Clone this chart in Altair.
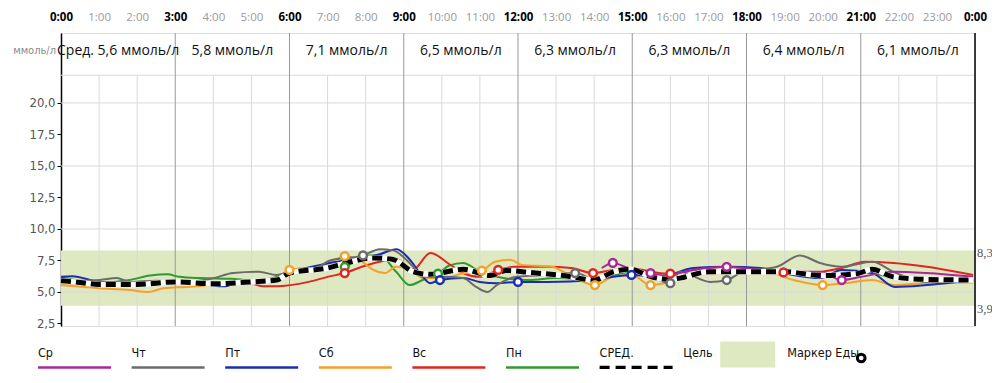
import altair as alt
import pandas as pd

# ---------------- data ----------------
days = ["Ср", "Чт", "Пт", "Сб", "Вс", "Пн"]
day_colors = ["#a8289c", "#6b6b6b", "#1a2db0", "#f4a12a", "#e0261f", "#2f9a2f"]

sr_t = [14.2, 14.49, 14.9, 15.48, 15.8, 16.6, 17.48, 18.36, 19.23, 19.93, 20.5, 21.0, 21.86, 22.73, 23.95]
sr_v = [6.9, 7.3, 6.9, 6.5, 6.3, 6.75, 7.0, 6.75, 6.6, 6.6, 5.95, 6.2, 6.6, 6.5, 6.2]

cht_t = [0.0, 0.5, 1.02, 1.46, 1.81, 2.5, 3.3, 4.0, 4.52, 5.2, 5.66, 6.0, 6.7, 7.06, 7.93, 8.37, 8.72, 9.25, 9.5,
         10.0, 10.56, 10.9, 11.2, 11.44, 11.97, 12.75, 13.5, 14.07, 14.94, 16.0, 16.25, 17.05, 17.48, 17.9, 18.8,
         19.4, 19.93, 20.5, 21.3, 21.86, 22.73, 23.95]
cht_v = [5.9, 5.9, 5.95, 6.1, 5.8, 5.9, 5.8, 6.1, 6.5, 6.6, 6.35, 6.6, 6.9, 7.5, 7.9, 8.4, 8.3, 7.0, 6.2,
         6.2, 6.1, 5.4, 5.0, 5.55, 6.2, 6.35, 6.5, 5.95, 6.9, 5.7, 6.6, 5.8, 5.95, 6.6, 7.0,
         7.9, 7.3, 7.0, 7.4, 6.6, 5.8, 5.95]

pt_t = [0.0, 0.3, 1.02, 1.8, 3.0, 3.6, 4.0, 4.3, 4.6, 5.5, 6.0, 7.06, 8.37, 8.81, 9.15, 9.5, 9.69, 9.95, 10.56,
        11.0, 11.44, 12.0, 12.75, 14.0, 14.5, 14.98, 15.73, 16.6, 17.48, 18.36, 19.23, 19.93, 20.5, 21.3, 21.9,
        22.73, 23.95]
pt_v = [6.2, 6.25, 5.8, 5.75, 5.7, 5.7, 5.5, 5.45, 5.7, 5.8, 6.5, 7.3, 8.0, 8.4, 7.6, 6.2, 5.7, 5.95, 6.1,
        5.8, 5.7, 5.8, 5.8, 5.95, 6.2, 6.35, 6.2, 6.9, 7.0, 6.9, 6.35, 6.1, 6.75, 6.5, 5.4,
        5.55, 5.95]

sb_t = [0.0, 1.0, 1.8, 2.3, 2.7, 3.3, 4.5, 5.6, 6.0, 6.7, 7.2, 7.45, 7.9, 8.2, 8.5, 8.8, 9.2, 9.5, 10.0, 10.6,
        11.05, 11.4, 11.8, 12.1, 12.9, 13.2, 14.02, 14.5, 15.0, 15.48, 16.0, 16.6, 17.48, 18.36, 19.23, 20.0,
        20.6, 21.3, 21.86, 22.73, 23.95]
sb_v = [5.55, 5.3, 5.15, 5.0, 5.3, 5.4, 5.7, 6.0, 6.75, 7.0, 7.55, 7.85, 7.4, 6.75, 6.5, 7.0, 6.75, 6.1, 6.1, 6.5,
        6.7, 7.4, 7.55, 7.15, 7.0, 6.6, 5.55, 6.2, 6.3, 5.55, 5.8, 6.35, 6.5, 6.75, 5.95, 5.55,
        5.7, 5.95, 5.55, 5.7, 5.75]

vs_t = [0.0, 1.0, 2.5, 3.3, 4.0, 5.0, 5.3, 5.66, 6.5, 7.0, 7.45, 7.9, 8.8, 9.25, 9.7, 10.2, 10.56, 11.0, 11.48,
        11.9, 12.75, 13.4, 13.97, 14.5, 14.94, 15.5, 16.0, 16.6, 17.48, 18.36, 18.97, 19.6, 20.5, 21.1, 21.86,
        22.73, 23.95]
vs_v = [5.75, 5.55, 5.7, 5.8, 5.6, 5.65, 5.45, 5.45, 5.8, 6.2, 6.5, 7.0, 7.6, 6.8, 8.1, 7.2, 6.5, 6.2, 6.75,
        7.0, 7.0, 6.9, 6.5, 6.75, 6.9, 6.6, 6.45, 6.75, 7.0, 6.75, 6.55, 6.5, 6.9, 7.4, 7.3,
        7.0, 6.35]

pn_t = [0.0, 0.5, 1.0, 1.8, 2.34, 2.8, 3.1, 3.65, 4.5, 5.2, 5.66, 6.0, 6.7, 7.06, 7.45, 7.95, 8.37, 8.8, 9.15,
        9.5, 9.9, 10.2, 10.56, 11.0, 11.44, 12.3, 13.0, 14.0, 15.0, 16.0, 17.0, 18.0, 19.0, 20.0, 21.0, 22.0,
        23.0, 23.95]
pn_v = [6.15, 5.9, 5.75, 5.95, 6.3, 6.4, 6.2, 6.1, 6.05, 5.85, 6.2, 6.4, 6.75, 7.4, 7.0, 7.9, 7.9, 6.6, 5.55,
        5.95, 6.45, 7.1, 7.3, 6.6, 6.2, 5.95, 6.1, 6.0, 6.6, 6.1, 6.5, 6.6, 6.5, 6.3, 6.6, 6.1,
        6.0, 5.95]

avg_t = [0.0, 0.5, 1.0, 2.0, 3.0, 4.0, 5.0, 5.66, 6.0, 7.0, 7.5, 8.2, 8.7, 9.25, 9.7, 10.56, 11.27, 11.7, 12.3,
         13.2, 14.0, 14.5, 14.95, 15.5, 16.0, 16.25, 17.0, 18.0, 19.0, 20.0, 20.9, 21.3, 21.85, 22.7, 23.95]
avg_v = [5.9, 5.75, 5.6, 5.6, 5.8, 5.65, 5.8, 5.95, 6.5, 6.9, 7.3, 7.7, 7.6, 6.6, 6.4, 6.8, 6.3, 6.7, 6.55,
         6.3, 5.95, 6.6, 6.8, 6.2, 6.0, 6.1, 6.6, 6.6, 6.6, 6.3, 6.45, 6.8, 6.2, 6.0, 5.95]

meal_day = ["Сб", "Сб", "Пн", "Вс", "Чт", "Пн", "Пт", "Сб", "Вс", "Пт", "Чт", "Вс", "Сб", "Ср", "Пт",
            "Ср", "Сб", "Вс", "Чт", "Ср", "Чт", "Вс", "Сб", "Ср"]
meal_t = [6.0, 7.45, 7.45, 7.45, 7.93, 9.9, 9.95, 11.05, 11.48, 12.0, 13.5, 13.97, 14.02, 14.49, 14.98,
          15.48, 15.48, 16.0, 16.0, 17.48, 17.48, 18.97, 20.0, 20.5]
meal_v = [6.75, 7.85, 7.0, 6.5, 7.9, 6.45, 5.95, 6.7, 6.75, 5.8, 6.5, 6.5, 5.55, 7.3, 6.35,
          6.5, 5.55, 6.45, 5.7, 7.0, 5.95, 6.55, 5.55, 5.95]

seg_mid = [1.5, 4.5, 7.5, 10.5, 13.5, 16.5, 19.5, 22.5]
seg_labels = ["Сред. 5,6 ммоль/л", "5,8 ммоль/л", "7,1 ммоль/л", "6,5 ммоль/л",
              "6,3 ммоль/л", "6,3 ммоль/л", "6,4 ммоль/л", "6,1 ммоль/л"]
hours = list(range(25))
y_ticks = [2.5, 5.0, 7.5, 10.0, 12.5, 15.0, 17.5, 20.0]
grid_vals = [5.0, 10.0, 15.0, 20.0, 22.2]
target_low, target_high = 3.9, 8.3

# ---------------- layout ----------------
W, H = 914, 293
Y_MIN, GRID_TOP, Y_MAX = 2.3, 22.2, 25.55
SANS = "Open Sans, Noto Sans, sans-serif"
NARROW = "Liberation Sans Narrow, DejaVu Sans Condensed, Roboto, sans-serif"

xs = alt.Scale(domain=[0, 24], nice=False, zero=False)
ys = alt.Scale(domain=[Y_MIN, Y_MAX], nice=False, zero=False)

top_axis = alt.Axis(
    orient="top", values=hours, title=None, grid=False, ticks=False, domain=False,
    labelExpr="datum.value == 24 ? '0:00' : datum.value + ':00'",
    labelFlush=False, labelOverlap=False, labelPadding=11, labelFont=SANS, labelFontSize=11.5,
    labelFontWeight={"condition": {"test": "datum.value % 3 === 0", "value": "bold"}, "value": "normal"},
    labelColor={"condition": {"test": "datum.value % 3 === 0", "value": "#000000"}, "value": "#9a9a9a"},
)
y_axis = alt.Axis(
    values=y_ticks, title=None, grid=False,
    labelExpr="replace(format(datum.value, '.1f'), '.', ',')",
    domainColor="#000000", domainWidth=1.5, tickColor="#000000", tickSize=4, tickWidth=1,
    labelColor="#555555", labelFont=NARROW, labelFontSize=13, labelPadding=2,
)


def X(field):
    return alt.X(field, scale=xs, axis=top_axis)


def Y(field):
    return alt.Y(field, scale=ys, axis=y_axis)


band = alt.Chart(pd.DataFrame({"a": [0], "b": [24], "lo": [target_low], "hi": [target_high]})).mark_rect(
    color="#dfe9c1").encode(x=X("a:Q"), x2="b:Q", y=Y("lo:Q"), y2="hi:Q")

hgrid = alt.Chart(pd.DataFrame({"v": grid_vals})).mark_rule(color="#d9d9d9", strokeWidth=1).encode(
    y=Y("v:Q"))

minor_h = [h for h in hours if h % 3 != 0]
vminor = alt.Chart(pd.DataFrame({"h": minor_h, "lo": [Y_MIN] * len(minor_h), "hi": [GRID_TOP] * len(minor_h)})
                   ).mark_rule(color="#d9d9d9", strokeWidth=1).encode(
    x=X("h:Q"), y=Y("lo:Q"), y2="hi:Q")
major_h = [h for h in hours if h % 3 == 0 and 0 < h < 24]
vmajor = alt.Chart(pd.DataFrame({"h": major_h})).mark_rule(color="#999999", strokeWidth=1).encode(x=X("h:Q"))
vend = alt.Chart(pd.DataFrame({"h": [24]})).mark_rule(color="#000000", strokeWidth=1.5).encode(x=X("h:Q"))

header = alt.Chart(pd.DataFrame({"m": seg_mid, "t": seg_labels})).mark_text(
    font=SANS, fontSize=14, color="#111111", baseline="middle", align="center").encode(
    x=X("m:Q"), y=alt.value(18), text="t:N")
unit = alt.Chart(pd.DataFrame({"t": ["ммоль/л"]})).mark_text(
    font=NARROW, fontSize=11, color="#8a8a8a", baseline="middle", align="right").encode(
    x=alt.value(-5), y=alt.value(18), text="t:N")

series = {"Ср": (sr_t, sr_v), "Чт": (cht_t, cht_v), "Пт": (pt_t, pt_v),
          "Сб": (sb_t, sb_v), "Вс": (vs_t, vs_v), "Пн": (pn_t, pn_v)}
draw_order = ["Пн", "Вс", "Сб", "Пт", "Чт", "Ср"]
day_layers = []
for d in draw_order:
    t, v = series[d]
    c = day_colors[days.index(d)]
    day_layers.append(
        alt.Chart(pd.DataFrame({"t": t, "v": v})).mark_line(
            color=c, strokeWidth=2, interpolate="monotone").encode(x=X("t:Q"), y=Y("v:Q")))

avg_df = pd.DataFrame({"t": avg_t, "v": avg_v})
avg_under = alt.Chart(avg_df).mark_line(color="#ffffff", strokeWidth=5.5, interpolate="monotone").encode(
    x=X("t:Q"), y=Y("v:Q"))
avg_line = alt.Chart(avg_df).mark_line(color="#000000", strokeWidth=5, strokeDash=[10, 5],
                                       interpolate="monotone").encode(x=X("t:Q"), y=Y("v:Q"))

meals = alt.Chart(pd.DataFrame({"day": meal_day, "t": meal_t, "v": meal_v})).mark_point(
    shape="circle", filled=False, fill="#ffffff", fillOpacity=1, opacity=1, strokeWidth=2.5, size=60).encode(
    x=X("t:Q"), y=Y("v:Q"),
    color=alt.Color("day:N", scale=alt.Scale(domain=days, range=day_colors), legend=None))

tgt_vals = [target_high, target_low]
tgt_txt = [f"{v:.1f}".replace(".", ",") for v in tgt_vals]
tgt_labels = alt.Chart(pd.DataFrame({"v": tgt_vals, "t": tgt_txt})).mark_text(
    font="Liberation Serif, DejaVu Serif, serif", fontSize=12.5, color="#555555", align="left",
    baseline="middle", dy=3).encode(
    x=alt.value(W + 2), y=Y("v:Q"), text="t:N")

# ---------------- legend (pixel layout relative to plot origin) ----------------
LEG_X0, LEG_STEP, LEG_LEN = -23, 93.6, 73
LEG_TEXT_Y, LEG_LINE_Y = 320, 334.5
leg_names = days + ["СРЕД."]
leg_x = [LEG_X0 + i * LEG_STEP for i in range(len(leg_names))]
leg_text = alt.Chart(pd.DataFrame({"x": leg_x + [LEG_X0 + 7 * LEG_STEP - 10, LEG_X0 + 7 * LEG_STEP + 94],
                                   "t": leg_names + ["Цель", "Маркер Еды"]})).mark_text(
    font=NARROW, fontSize=12.5, color="#111111", align="left", baseline="middle").encode(
    x=alt.X("x:Q", scale=None), y=alt.value(LEG_TEXT_Y), text="t:N")
leg_lines = alt.Chart(pd.DataFrame({"x": leg_x[:6], "x2": [x + LEG_LEN for x in leg_x[:6]], "day": days})
                      ).mark_rule(strokeWidth=2.5).encode(
    x=alt.X("x:Q", scale=None), x2="x2:Q", y=alt.value(LEG_LINE_Y),
    color=alt.Color("day:N", scale=alt.Scale(domain=days, range=day_colors), legend=None))
leg_avg = alt.Chart(pd.DataFrame({"x": [leg_x[6]], "x2": [leg_x[6] + LEG_LEN]})).mark_rule(
    strokeWidth=3.5, color="#000000", strokeDash=[10, 6]).encode(
    x=alt.X("x:Q", scale=None), x2="x2:Q", y=alt.value(LEG_LINE_Y))
box_x = LEG_X0 + 7 * LEG_STEP + 27
leg_box = alt.Chart(pd.DataFrame({"x": [box_x], "x2": [box_x + 55]})).mark_rect(color="#dfe9c1").encode(
    x=alt.X("x:Q", scale=None), x2="x2:Q", y=alt.value(LEG_LINE_Y - 26), y2=alt.value(LEG_LINE_Y))
leg_ring = alt.Chart(pd.DataFrame({"x": [box_x + 141]})).mark_point(
    shape="circle", filled=False, fill="#ffffff", fillOpacity=1, opacity=1, strokeWidth=3, size=60,
    color="#000000").encode(x=alt.X("x:Q", scale=None), y=alt.value(LEG_TEXT_Y + 5))

chart = alt.layer(
    band, hgrid, vminor, vmajor, vend, header, unit,
    *day_layers, avg_under, avg_line, meals, tgt_labels,
    leg_text, leg_lines, leg_avg, leg_box, leg_ring,
).properties(
    width=W, height=H,
    autosize=alt.AutoSizeParams(type="none"),
    padding={"left": 53, "top": 25, "right": 17, "bottom": 43},
).configure_view(stroke="transparent").configure(background="#ffffff")

chart.save("out.html", embed_options={"renderer": "svg", "actions": False})
